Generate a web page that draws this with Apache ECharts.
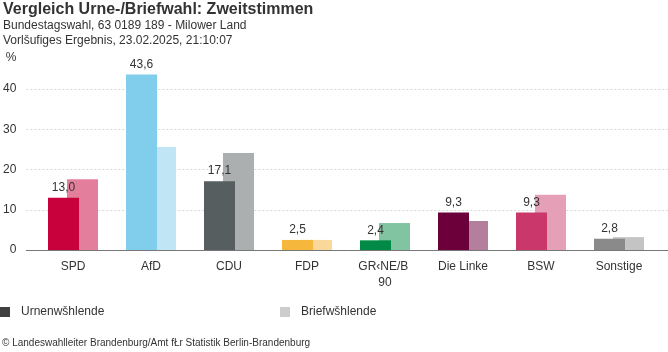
<!DOCTYPE html>
<html>
<head>
<meta charset="utf-8">
<script src="https://cdn.jsdelivr.net/npm/echarts@6/dist/echarts.min.js"></script>
<style>
  html, body { margin: 0; padding: 0; background: #fff; }
  #chart { width: 668px; height: 352px; }
</style>
</head>
<body>
<div id="chart"></div>
<script>
var parteien = ['SPD', 'AfD', 'CDU', 'FDP', 'GR‹NE/B 90', 'Die Linke', 'BSW', 'Sonstige'];
var urne = [13.0, 43.6, 17.1, 2.5, 2.4, 9.3, 9.3, 2.8];
var brief = [17.6, 25.6, 24.1, 2.5, 6.7, 7.2, 13.7, 3.2];
var farbenUrne = ['#c8003c', '#80cdec', '#575e60', '#f5b83d', '#008a45', '#6b003a', '#c9376b', '#8a8a8a'];
var farbenBrief = ['#e37f9d', '#c0e6f5', '#abafb0', '#fad89c', '#80c4a1', '#b47f9c', '#e59fb7', '#c4c4c4'];

var myChart = echarts.init(document.getElementById('chart'));

var fnt = 'Liberation Sans, Arial, sans-serif';

var option = {
    animation: false,
    textStyle: { fontFamily: fnt },
    title: [
        {
            text: 'Vergleich Urne-/Briefwahl: Zweitstimmen',
            subtext: 'Bundestagswahl, 63 0189 189 - Milower Land\nVorlšufiges Ergebnis, 23.02.2025, 21:10:07',
            left: 0, top: 0, padding: [2, 3],
            itemGap: 0,
            textStyle: { fontSize: 16, fontWeight: 'bold', color: '#333', fontFamily: fnt },
            subtextStyle: { fontSize: 12, color: '#333', lineHeight: 15, fontFamily: fnt }
        },
        {
            text: '© Landeswahlleiter Brandenburg/Amt fŁr Statistik Berlin-Brandenburg',
            left: 0, bottom: 4, padding: [0, 2],
            textStyle: { fontSize: 10, fontWeight: 'normal', color: '#333', fontFamily: fnt }
        }
    ],
    legend: [
        {
            data: ['Urnenwšhlende'],
            left: 0, top: 306, padding: 0,
            itemWidth: 10, itemHeight: 10,
            icon: 'rect',
            textStyle: { fontSize: 12, color: '#333', padding: [0, 0, 0, 6] }
        },
        {
            data: ['Briefwšhlende'],
            left: 280, top: 306, padding: 0,
            itemWidth: 10, itemHeight: 10,
            icon: 'rect',
            textStyle: { fontSize: 12, color: '#333', padding: [0, 0, 0, 6] }
        }
    ],
    grid: [
        { left: 24, right: 0, top: 89, bottom: 102 },
        { left: 34, right: 10, top: 89, bottom: 102 }
    ],
    xAxis: [
        {
            gridIndex: 0, type: 'value', min: 0, max: 1,
            axisLine: { show: true, onZero: false, lineStyle: { color: '#777', width: 1 } },
            axisTick: { show: false }, axisLabel: { show: false }, splitLine: { show: false }
        },
        {
            gridIndex: 1, type: 'category', data: parteien,
            axisLine: { show: false }, axisTick: { show: false },
            axisLabel: {
                color: '#333', fontSize: 12, margin: 9, interval: 0,
                width: 62, overflow: 'break', lineHeight: 16
            }
        }
    ],
    yAxis: [
        {
            gridIndex: 0, type: 'value', min: 0, max: 40, interval: 10,
            name: '%', nameLocation: 'end', nameGap: 25,
            nameTextStyle: { color: '#333', fontSize: 12, align: 'right', padding: [0, 10, 0, 0] },
            axisLine: { show: false }, axisTick: { show: false },
            axisLabel: { color: '#333', fontSize: 12, margin: 10, padding: [0, 0, 4, 0] },
            splitLine: { lineStyle: { color: '#d8d8d8', type: [2, 2] } }
        },
        {
            gridIndex: 1, type: 'value', min: 0, max: 40, show: false
        }
    ],
    series: [
        {
            name: 'Urnenwšhlende', type: 'bar', xAxisIndex: 1, yAxisIndex: 1,
            barWidth: 31, barGap: '-38.7%', clip: false, z: 3,
            itemStyle: { color: '#404040' },
            label: {
                show: true, position: 'top', distance: 4, color: '#333', fontSize: 12,
                formatter: function (p) { return p.value.toFixed(1).replace('.', ','); }
            },
            data: urne.map(function (v, i) {
                return { value: v, itemStyle: { color: farbenUrne[i] } };
            })
        },
        {
            name: 'Briefwšhlende', type: 'bar', xAxisIndex: 1, yAxisIndex: 1,
            barWidth: 31, clip: false, z: 2,
            itemStyle: { color: '#cccccc' },
            data: brief.map(function (v, i) {
                return { value: v, itemStyle: { color: farbenBrief[i] } };
            })
        }
    ]
};

myChart.setOption(option);
</script>
</body>
</html>
